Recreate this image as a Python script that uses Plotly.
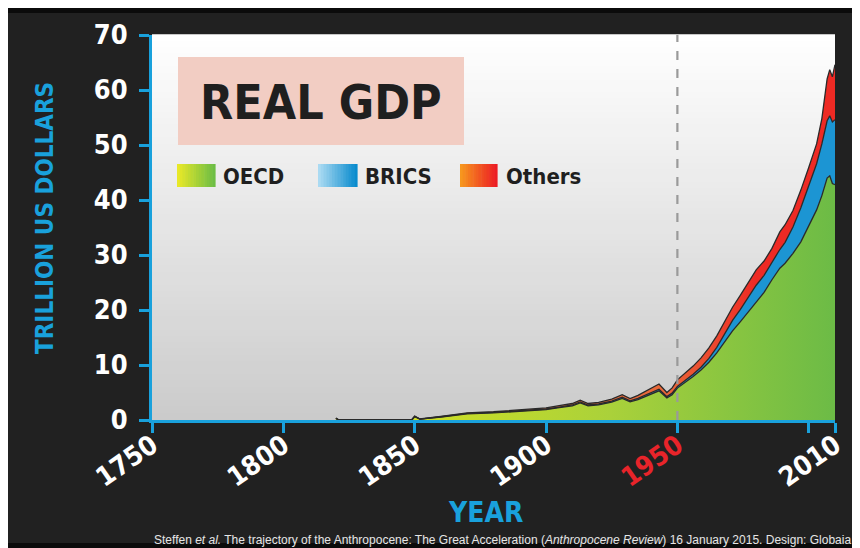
import plotly.graph_objects as go

# ---------------- data ----------------
years = [1820, 1821, 1830, 1840, 1849, 1850, 1852, 1860, 1868, 1870, 1880, 1890, 1900,
         1905, 1910, 1913, 1916, 1920, 1925, 1929, 1932, 1935, 1938, 1941, 1943,
         1946, 1948, 1950, 1953, 1956, 1959, 1962, 1965, 1968, 1971, 1974, 1977,
         1980, 1983, 1986, 1989, 1991, 1994, 1997, 2000, 2003, 2005, 2007, 2008,
         2009, 2010]
oecd = [0.30, 0.03, 0.03, 0.05, 0.08, 0.60, 0.15, 0.55, 0.94, 1.12, 1.29, 1.55, 1.89,
        2.24, 2.58, 3.10, 2.58, 2.75, 3.25, 3.92, 3.30, 3.70, 4.35, 4.90, 5.30,
        4.00, 4.60, 5.8, 6.8, 7.9, 9.1, 10.5, 12.2, 14.2, 16.2, 17.9, 19.7,
        21.5, 23.2, 25.5, 27.6, 28.5, 30.3, 32.4, 35.4, 38.2, 40.8, 44.0, 44.4,
        43.0, 42.8]
brics = [0.02, 0.0, 0.0, 0.0, 0.01, 0.05, 0.02, 0.04, 0.06, 0.07, 0.08, 0.09, 0.11,
         0.12, 0.15, 0.18, 0.15, 0.16, 0.19, 0.23, 0.20, 0.22, 0.25, 0.28, 0.30,
         0.25, 0.28, 0.3, 0.35, 0.4, 0.5, 0.7, 1.0, 1.5, 1.9, 2.2, 2.6,
         3.0, 3.1, 3.2, 3.4, 3.8, 4.8, 6.2, 7.1, 8.4, 9.4, 10.4, 10.9,
         11.2, 11.8]
others = [0.03, 0.0, 0.0, 0.0, 0.01, 0.07, 0.02, 0.06, 0.10, 0.11, 0.13, 0.16, 0.20,
          0.24, 0.27, 0.32, 0.27, 0.29, 0.36, 0.45, 0.40, 0.55, 0.70, 0.85, 0.95,
          0.75, 0.95, 1.2, 1.4, 1.5, 1.7, 1.9, 2.1, 2.3, 2.4, 2.6, 2.6,
          2.8, 2.6, 2.5, 3.2, 3.2, 3.0, 3.2, 3.4, 3.6, 4.6, 7.6, 8.4,
          8.2, 10.0]

x_tick_vals = [1750, 1800, 1850, 1900, 1950, 2000, 2010]
x_tick_text = ["1750", "1800", "1850", "1900",
               '<span style="color:#e8242a">1950</span>', "", "2010"]
y_tick_vals = [0, 10, 20, 30, 40, 50, 60, 70]
legend_names = ["OECD", "BRICS", "Others"]

# ---------------- layout helpers ----------------
W, H = 860, 548
OFF = 8                              # page body margin
L, R, T, B = 152, 835, 35, 420       # plot area, page pixels


def px(x):
    return (x - L) / (R - L)


def py(y):
    return (B - y) / (B - T)


COND = "DejaVu Sans Condensed, Liberation Sans Narrow, sans-serif"
BLUE = "#19a1dc"
DARK = "#212121"
OUTLINE = "#2a2a2a"

fig = go.Figure()

fig.add_trace(go.Scatter(
    x=years, y=oecd, name=legend_names[0], stackgroup="gdp", mode="lines",
    line=dict(color=OUTLINE, width=1.3),
    fillgradient=dict(type="horizontal", start=1820, stop=2010,
                      colorscale=[[0, "#dde51c"], [0.55, "#aad13a"], [1, "#6cbb46"]]),
    showlegend=False, hoverinfo="skip"))
fig.add_trace(go.Scatter(
    x=years, y=brics, name=legend_names[1], stackgroup="gdp", mode="lines",
    line=dict(color=OUTLINE, width=1.3),
    fillcolor="#1c95d3", showlegend=False, hoverinfo="skip"))
fig.add_trace(go.Scatter(
    x=years, y=others, name=legend_names[2], stackgroup="gdp", mode="lines",
    line=dict(color=OUTLINE, width=1.3),
    fillgradient=dict(type="horizontal", start=1945, stop=1980,
                      colorscale=[[0, "#e9683a"], [1, "#ee2a24"]]),
    showlegend=False, hoverinfo="skip"))

shapes = []
# plot background vertical gradient (white top -> grey bottom)
nb = 60
top_c = (255, 255, 255)
bot_c = (203, 203, 203)
for i in range(nb):
    t = (i + 0.5) / nb
    c = tuple(int(round(top_c[k] + (bot_c[k] - top_c[k]) * t)) for k in range(3))
    shapes.append(dict(type="rect", xref="paper", yref="paper",
                       x0=0, x1=1, y0=1 - (i + 1) / nb, y1=1 - i / nb + 0.002,
                       fillcolor="rgb(%d,%d,%d)" % c, line=dict(width=0), layer="below"))

# black frame lines at the top and bottom of the image
shapes += [
    dict(type="rect", xref="paper", yref="paper", x0=px(0), x1=px(W + 20), y0=py(13), y1=py(0),
         fillcolor="#0b0b0b", line=dict(width=0), layer="above"),
    dict(type="rect", xref="paper", yref="paper", x0=px(0), x1=px(W + 20), y0=py(H + 20), y1=py(543),
         fillcolor="#0b0b0b", line=dict(width=0), layer="above"),
]

# dashed line at 1950
shapes.append(dict(type="line", xref="x", yref="paper", x0=1950, x1=1950, y0=0, y1=1,
                   line=dict(color="#9a9a9a", width=2.2, dash="dash"), layer="above"))

# title box
shapes.append(dict(type="rect", xref="paper", yref="paper",
                   x0=px(178), x1=px(464), y0=py(145), y1=py(57),
                   fillcolor="#f2cdc3", line=dict(width=0), layer="above"))


def grad_swatch(x0, x1, y0, y1, c0, c1, n=14):
    out = []
    for i in range(n):
        t = i / (n - 1)
        c = tuple(int(round(c0[k] + (c1[k] - c0[k]) * t)) for k in range(3))
        a = x0 + (x1 - x0) * i / n
        b = x0 + (x1 - x0) * (i + 1) / n
        out.append(dict(type="rect", xref="paper", yref="paper",
                        x0=px(a), x1=px(b + 0.6), y0=py(y1), y1=py(y0),
                        fillcolor="rgb(%d,%d,%d)" % c, line=dict(width=0), layer="above"))
    return out


shapes += grad_swatch(177, 215, 164, 187, (232, 232, 40), (110, 190, 68))
shapes += grad_swatch(318, 357, 164, 187, (170, 218, 242), (10, 140, 206))
shapes += grad_swatch(460, 497, 164, 187, (247, 150, 30), (236, 30, 36))

annotations = [
    dict(text="<b>REAL GDP</b>", xref="paper", yref="paper", x=px(321), y=py(102),
         xanchor="center", yanchor="middle", showarrow=False,
         font=dict(family=COND, size=48, color="#1f1f1f")),
    dict(text="<b>" + legend_names[0] + "</b>", xref="paper", yref="paper", x=px(221), y=py(176),
         xanchor="left", yanchor="middle", showarrow=False,
         font=dict(family=COND, size=22, color="#1f1f1f")),
    dict(text="<b>" + legend_names[1] + "</b>", xref="paper", yref="paper", x=px(363), y=py(176),
         xanchor="left", yanchor="middle", showarrow=False,
         font=dict(family=COND, size=22, color="#1f1f1f")),
    dict(text="<b>" + legend_names[2] + "</b>", xref="paper", yref="paper", x=px(504), y=py(176),
         xanchor="left", yanchor="middle", showarrow=False,
         font=dict(family=COND, size=22, color="#1f1f1f")),
    dict(text="<b>TRILLION US DOLLARS</b>", xref="paper", yref="paper", x=px(45), y=py(218),
         xanchor="center", yanchor="middle", textangle=-90, showarrow=False,
         font=dict(family=COND, size=24, color=BLUE)),
    dict(text="<b>YEAR</b>", xref="paper", yref="paper", x=px(485), y=py(531),
         xanchor="center", yanchor="bottom", showarrow=False,
         font=dict(family=COND, size=28, color=BLUE)),
    dict(text="Steffen <i>et al.</i> The trajectory of the Anthropocene: The Great Acceleration "
              "(<i>Anthropocene Review</i>) 16 January 2015. Design: Globaia",
         xref="paper", yref="paper", x=px(853), y=py(531),
         xanchor="right", yanchor="top", showarrow=False,
         font=dict(family="Liberation Sans, Arial, sans-serif", size=12, color="#e6e6e6")),
]

fig.update_layout(
    width=W, height=H,
    margin=dict(l=L - OFF, r=W - (R - OFF), t=T - OFF, b=H - (B - OFF)),
    paper_bgcolor=DARK, plot_bgcolor="#e6e6e6",
    shapes=shapes, annotations=annotations,
    showlegend=False,
)

fig.update_xaxes(
    range=[1750, 2010], tickmode="array", tickvals=x_tick_vals, ticktext=x_tick_text,
    tickangle=-35, ticks="outside", ticklen=10, tickwidth=3, tickcolor=BLUE,
    ticklabelstandoff=-14,
    showline=True, linecolor=BLUE, linewidth=3, showgrid=False, zeroline=False,
    tickfont=dict(family=COND, size=27, color="white", weight="bold"),
)
fig.update_yaxes(
    range=[0, 70], tickmode="array", tickvals=y_tick_vals,
    ticks="outside", ticklen=10, tickwidth=3, tickcolor=BLUE, ticklabelstandoff=6,
    showline=True, linecolor=BLUE, linewidth=3, showgrid=False, zeroline=False,
    tickfont=dict(family=COND, size=27, color="white", weight="bold"),
)

fig.write_html("out.html")
